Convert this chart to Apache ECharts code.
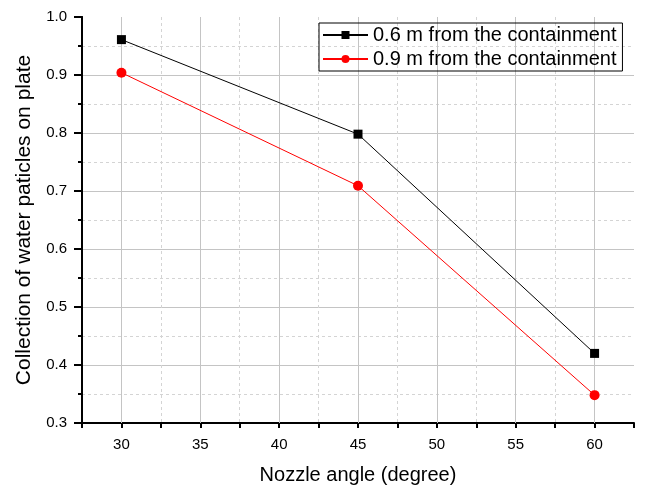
<!DOCTYPE html>
<html>
<head>
<meta charset="utf-8">
<script src="https://cdn.jsdelivr.net/npm/echarts@6/dist/echarts.min.js"></script>
<style>
  html, body { margin: 0; padding: 0; background: #fff; }
  #main { width: 645px; height: 490px; }
</style>
</head>
<body>
<div id="main"></div>
<script>
// nozzle angles
var angles = [30, 45, 60];
// collection at 0.6 m and 0.9 m from the containment
var dist06 = [0.961, 0.798, 0.420];
var dist09 = [0.904, 0.709, 0.348];
// labelled x ticks (solid grid lines)
var xTicks = [30, 35, 40, 45, 50, 55, 60];

var font = 'Arial, "Liberation Sans", sans-serif';
var myChart = echarts.init(document.getElementById('main'));

var option = {
  animation: false,
  grid: { left: 82, right: 11, top: 17, bottom: 66 },
  legend: {
    orient: 'vertical',
    left: 319,
    top: 23,
    padding: [2, 6, 2, 3],
    itemGap: 4,
    itemWidth: 45,
    itemHeight: 10,
    borderColor: '#000',
    borderWidth: 1,
    borderRadius: 0,
    textStyle: { fontFamily: font, fontSize: 20, color: '#000' },
    data: ['0.6 m from the containment', '0.9 m from the containment']
  },
  xAxis: {
    type: 'value',
    min: 27.5,
    max: 62.5,
    interval: 2.5,
    name: 'Nozzle angle (degree)',
    nameLocation: 'middle',
    nameGap: 42,
    nameTextStyle: { fontFamily: font, fontSize: 20, color: '#000' },
    axisLine: { lineStyle: { color: '#000', width: 2 } },
    axisTick: { length: 5, lineStyle: { color: '#000', width: 2 } },
    axisLabel: {
      fontFamily: font, fontSize: 15, color: '#000', margin: 14,
      formatter: function (v) { return v % 5 === 0 ? String(v) : ''; }
    },
    splitLine: {
      show: true, showMinLine: false, showMaxLine: false,
      lineStyle: { color: '#d4d4d4', type: [3, 3], width: 1 }
    }
  },
  yAxis: [
    {
      // minor ticks and dashed grid
      type: 'value',
      min: 0.3,
      max: 1.0,
      interval: 0.05,
      axisLine: { show: true, lineStyle: { color: '#000', width: 2 } },
      axisTick: { show: true, length: 4, lineStyle: { color: '#000', width: 2 } },
      axisLabel: { show: false },
      splitLine: {
        show: true, showMinLine: false, showMaxLine: false,
        lineStyle: { color: '#d4d4d4', type: [3, 3], width: 1 }
      }
    },
    {
      // major ticks, labels and solid grid
      type: 'value',
      position: 'left',
      min: 0.3,
      max: 1.0,
      interval: 0.1,
      name: 'Collection of water paticles on plate',
      nameLocation: 'middle',
      nameGap: 47,
      nameTextStyle: { fontFamily: font, fontSize: 21, color: '#000' },
      axisLine: { show: true, lineStyle: { color: '#000', width: 2 } },
      axisTick: { show: true, length: 8, lineStyle: { color: '#000', width: 2 } },
      axisLabel: {
        fontFamily: font, fontSize: 15, color: '#000', margin: 15,
        formatter: function (v) { return v.toFixed(1); }
      },
      splitLine: {
        show: true, showMinLine: false, showMaxLine: false,
        lineStyle: { color: '#c4c4c4', type: 'solid', width: 1 }
      }
    }
  ],
  series: [
    {
      name: '0.6 m from the containment',
      type: 'line',
      data: angles.map(function (a, i) { return [a, dist06[i]]; }),
      symbol: 'rect',
      symbolSize: 9,
      itemStyle: { color: '#000' },
      lineStyle: { color: '#000', width: 1 },
      z: 3,
      markLine: {
        silent: true,
        symbol: 'none',
        label: { show: false },
        lineStyle: { color: '#c4c4c4', type: 'solid', width: 1 },
        data: xTicks.map(function (v) { return { xAxis: v }; }),
        z: 1
      }
    },
    {
      name: '0.9 m from the containment',
      type: 'line',
      data: angles.map(function (a, i) { return [a, dist09[i]]; }),
      symbol: 'circle',
      symbolSize: 10,
      itemStyle: { color: '#ff0000' },
      lineStyle: { color: '#ff0000', width: 1 },
      z: 3
    }
  ]
};

myChart.setOption(option);
</script>
</body>
</html>
